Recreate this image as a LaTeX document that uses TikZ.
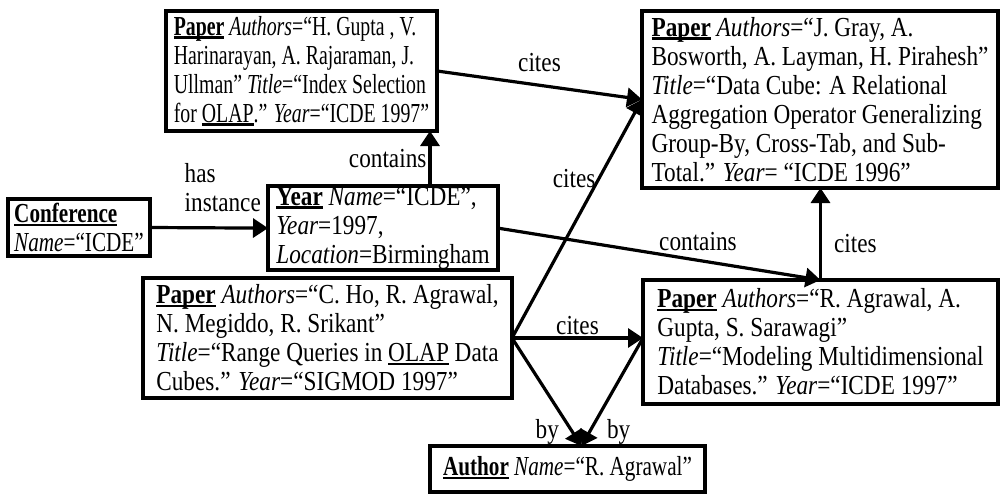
\documentclass[tikz,border=0pt]{standalone}
\usepackage{fontspec}
\setmainfont{Liberation Serif}[FakeStretch=0.845]
\newfontfamily\condensed{Liberation Serif}[FakeStretch=0.77]
\newfontfamily\squeezed{Liberation Serif}[FakeStretch=0.72]
\usetikzlibrary{arrows.meta}
\newsavebox{\ulbox}
\newcommand{\ulin}[1]{\sbox{\ulbox}{#1}\rlap{\rule[-3.5pt]{\wd\ulbox}{2.4pt}}\usebox{\ulbox}}
\newcommand{\kind}[1]{\ulin{\textbf{#1}}}
\tikzset{
  every node/.style={font=\fontsize{27.5}{29}\selectfont},
  entity/.style={draw, line width=4pt, anchor=north west, align=left, inner xsep=6pt, inner ysep=1pt, outer sep=0pt},
  narrow/.style={font=\fontsize{27.5}{29}\selectfont\condensed},
  narrower/.style={font=\fontsize{27.5}{29}\selectfont\squeezed},
  rel/.style={line width=3.2pt, -{Triangle[length=15pt,width=19pt]}},
  lbl/.style={inner sep=2pt},
}
\begin{document}
\begin{tikzpicture}[x=1pt,y=-1pt]
  \useasboundingbox (0,0) rectangle (1002,496);
  % entities
  \node[entity, narrow, minimum width=142pt, minimum height=57pt] (conf) at (8,199)
    {\kind{Conference}\\\emph{Name}=“ICDE”};
  \node[entity, minimum width=230pt, minimum height=84pt] (year) at (268,186)
    {\kind{Year} \emph{Name}=“ICDE”,\\\emph{Year}=1997,\\\emph{Location}=Birmingham};
  \node[entity, narrower, minimum width=271pt, minimum height=120pt] (p1) at (166,11)
    {\kind{Paper} \emph{Authors}=“H. Gupta , V.\\Harinarayan, A. Rajaraman, J.\\Ullman” \emph{Title}=“Index Selection\\for \ulin{OLAP}.” \emph{Year}=“ICDE 1997”};
  \node[entity, minimum width=356pt, minimum height=177pt] (p2) at (642,11)
    {\kind{Paper} \emph{Authors}=“J. Gray, A.\\Bosworth, A. Layman, H. Pirahesh”\\\emph{Title}=“Data Cube: A Relational\\Aggregation Operator Generalizing\\Group-By, Cross-Tab, and Sub-\\Total.” \emph{Year}= “ICDE 1996”};
  \node[entity, minimum width=369pt, minimum height=120pt] (p3) at (143,278)
    {\kind{Paper} \emph{Authors}=“C. Ho, R. Agrawal,\\N. Megiddo, R. Srikant”\\\emph{Title}=“Range Queries in \ulin{OLAP} Data\\Cubes.” \emph{Year}=“SIGMOD 1997”};
  \node[entity, minimum width=355pt, minimum height=124pt] (p4) at (643,280)
    {\kind{Paper} \emph{Authors}=“R. Agrawal, A.\\Gupta, S. Sarawagi”\\\emph{Title}=“Modeling Multidimensional\\Databases.” \emph{Year}=“ICDE 1997”};
  \node[entity, narrow, minimum width=275pt, minimum height=46pt] (author) at (430,446)
    {\kind{Author} \emph{Name}=“R. Agrawal”};
  \coordinate (yc) at ([xshift=47pt]year.north);
  \coordinate (ah) at ([xshift=14pt]author.north);
  % relations
  \draw[rel] (conf.east) -- (year.west)
    node[lbl, pos=0.97, anchor=south east, align=left, yshift=13pt] {has\\instance};
  \draw[rel] (yc) -- (yc |- p1.south) node[lbl, midway, left] {contains};
  \draw[rel] (year.east) -- (p4.north) node[lbl, pos=0.62, above=6pt] {contains};
  \draw[rel] (p4.north) -- (p4.north |- p2.south) node[lbl, pos=0.4, right, xshift=10pt] {cites};
  \draw[rel] (p1.east) -- (p2.west) node[lbl, midway, above=10pt] {cites};
  \draw[rel] (p3.east) -- (p2.west) node[lbl, pos=0.67, left] {cites};
  \draw[rel] (p3.east) -- (p3.east -| p4.west) node[lbl, midway, above] {cites};
  \draw[rel] (p3.east) -- (ah) node[lbl, pos=0.87, left, xshift=-10pt] {by};
  \draw[rel] (p3.east -| p4.west) -- (ah) node[lbl, pos=0.87, right, xshift=14pt] {by};
\end{tikzpicture}
\end{document}
